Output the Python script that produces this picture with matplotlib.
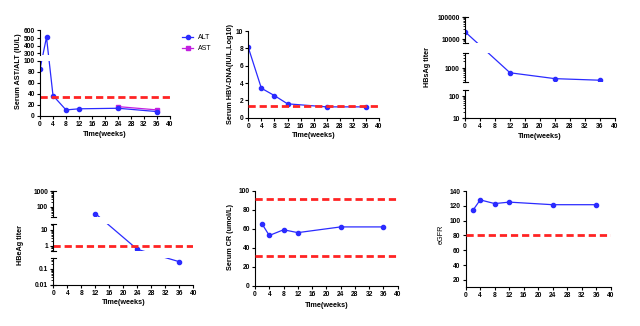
import numpy as np
import matplotlib.pyplot as plt

plt.rcParams['font.family'] = ['Liberation Sans', 'DejaVu Sans']
plt.rcParams['font.weight'] = 'bold'
plt.rcParams['axes.labelweight'] = 'bold'

W, H = 640, 326
BLUE = '#2b2bff'
RED = '#ff2424'
MAG = '#c21fe0'

# ---- data ----
weeks_alt = [0, 2, 4, 8, 12, 24, 36]
alt = [85, 510, 37, 11, 13, 14, 8]
weeks_ast = [24, 36]
ast = [17, 11]
alt_uln = 35

weeks_dna = [0, 4, 8, 12, 24, 36]
hbv_dna = [8.1, 3.4, 2.55, 1.6, 1.25, 1.25]
dna_cut = 1.3

weeks_hbsag = [0, 12, 24, 36]
hbsag = [22000, 610, 330, 280]

weeks_hbeag = [12, 24, 36]
hbeag = [38, 0.62, 0.29]
hbeag_cut = 1

weeks_kid = [2, 4, 8, 12, 24, 36]
creat = [65, 53, 59, 56, 62, 62]
creat_range = [32, 91]
egfr = [114, 128, 123, 125, 121.5, 121.5]
egfr_cut = 80

x_ticks = list(range(0, 41, 4))

fig = plt.figure(figsize=(6.4, 3.26), dpi=100)


def make_axes(x0, x1, ytop, ybot):
    ax = fig.add_axes([x0 / W, 1 - ybot / H, (x1 - x0) / W, (ybot - ytop) / H])
    ax.spines[['top', 'right']].set_visible(False)
    ax.spines[['left', 'bottom']].set_linewidth(0.8)
    ax.set_xlim(0, 40)
    ax.set_xticks(x_ticks)
    ax.tick_params(length=2.5, width=0.8, pad=1.2, labelsize=4.8)
    ax.tick_params(which='minor', length=1.5, width=0.6)
    return ax


def broken_scale(ax, vals, pix, log=False):
    # piecewise mapping value -> pixel (GraphPad style broken axis)
    v = np.log10(vals) if log else np.asarray(vals, float)
    p = -np.asarray(pix, float)
    v = np.concatenate([[v[0] - 100 * (v[1] - v[0])], v, [v[-1] + 100 * (v[-1] - v[-2])]])
    p = np.concatenate([[p[0] - 100 * (p[1] - p[0])], p, [p[-1] + 100 * (p[-1] - p[-2])]])

    def fwd(y):
        y = np.asarray(y, float)
        with np.errstate(divide='ignore', invalid='ignore'):
            t = np.log10(np.maximum(y, 1e-300)) if log else y
        return np.interp(t, v, p)

    def inv(q):
        t = np.interp(np.asarray(q, float), p, v)
        return 10 ** t if log else t

    ax.set_yscale('function', functions=(fwd, inv))


def draw_breaks(ax, segments, gaps, width_px, caps=True):
    ax.spines['left'].set_visible(False)
    tr = ax.get_yaxis_transform()
    c = 2.5 / width_px
    for lo, hi in segments:
        ax.plot([0, 0], [lo, hi], transform=tr, color='k', lw=0.8, clip_on=False, zorder=5)
        if caps:
            for y in (lo, hi):
                ax.plot([-c, c], [y, y], transform=tr, color='k', lw=0.8, clip_on=False, zorder=5)
    for lo, hi in gaps:
        ax.axhspan(lo, hi, color='white', lw=0, zorder=4)


def red_line(ax, y):
    ax.axhline(y, xmin=0, xmax=1, color=RED, lw=2, dashes=(2.6, 1.4), zorder=3)


def labels(ax, ylab, ly, lx, xlab=None, xly=-0.2, yweight='bold'):
    ax.set_ylabel(ylab, fontsize=5.2, fontweight=yweight, va='center')
    ax.yaxis.set_label_coords(lx, ly)
    if xlab:
        ax.set_xlabel(xlab, fontsize=5.2, va='center')
        ax.xaxis.set_label_coords(0.5, xly)


line_kw = dict(color=BLUE, lw=0.9, marker='o', ms=3, zorder=2)

# ---- panel 1: ALT / AST (broken linear axis) ----
ax1 = make_axes(40, 170, 30.3, 116)
broken_scale(ax1, [0, 100, 280, 600], [116, 60.7, 55, 30.3])
ax1.plot(weeks_ast, ast, color=MAG, lw=0.9, marker='s', ms=3, zorder=2, label='AST')
ax1.plot(weeks_alt, alt, label='ALT', **line_kw)
red_line(ax1, alt_uln)
draw_breaks(ax1, [(0, 100), (280, 600)], [(100, 280)], 130, caps=False)
ax1.set_yticks([0, 20, 40, 60, 80, 100, 300, 400, 500, 600])
ax1.set_ylim(0, 600)
labels(ax1, 'Serum AST/ALT (IU/L)', 0.52, -0.165, 'Time(weeks)', -0.214)
h, l = ax1.get_legend_handles_labels()
fig.legend(h[::-1], l[::-1], loc='upper left', bbox_to_anchor=(176 / W, 1 - 28 / H),
           frameon=False, fontsize=5, handlelength=1.6, handletextpad=0.6,
           labelspacing=0.6, prop={'weight': 'normal', 'size': 5})

# ---- panel 2: HBV-DNA ----
ax2 = make_axes(248.3, 379, 31, 117.7)
ax2.plot(weeks_dna, hbv_dna, **line_kw)
red_line(ax2, dna_cut)
ax2.set_ylim(0, 10)
ax2.set_yticks(range(0, 11, 2))
labels(ax2, 'Serum HBV-DNA(IU/L,Log10)', 0.5, -0.14, 'Time(weeks)', -0.2)

# ---- panel 3: HBsAg titer (broken log axis) ----
ax3 = make_axes(465, 615, 17.3, 118.3)
seg3 = [(10, 10 ** 2.27), (10 ** 2.38, 10 ** 3.67), (10 ** 3.83, 1e5)]
broken_scale(ax3, [10, 10 ** 2.27, 10 ** 2.38, 10 ** 3.67, 10 ** 3.83, 1e5],
             [118.3, 90, 81.7, 53.3, 43, 17.3], log=True)
ax3.plot(weeks_hbsag, hbsag, **line_kw)
draw_breaks(ax3, seg3, [(seg3[0][1], seg3[1][0]), (seg3[1][1], seg3[2][0])], 150)
ax3.set_yticks([10, 100, 1000, 10000, 100000])
ax3.set_yticklabels(['10', '100', '1000', '10000', '100000'])
minor3 = [k * 10 ** d for d in range(1, 5) for k in range(2, 10)]
minor3 = [m for m in minor3 if any(lo < m < hi for lo, hi in seg3)]
ax3.set_yticks(minor3, minor=True)
ax3.set_ylim(10, 1e5)
labels(ax3, 'HBsAg titer', 0.51, -0.25, 'Time(weeks)', -0.18)

# ---- panel 4: HBeAg titer (broken log axis) ----
ax4 = make_axes(53.3, 193.3, 191, 284.7)
seg4 = [(0.01, 10 ** -0.32), (10 ** -0.31, 10 ** 1.33), (10 ** 1.34, 1000)]
broken_scale(ax4, [0.01, 10 ** -0.32, 10 ** -0.31, 10 ** 1.33, 10 ** 1.34, 1000],
             [284.7, 258.3, 251, 224.3, 217.3, 191], log=True)
ax4.plot(weeks_hbeag, hbeag, **line_kw)
red_line(ax4, hbeag_cut)
draw_breaks(ax4, seg4, [(seg4[0][1], seg4[1][0]), (seg4[1][1], seg4[2][0])], 140)
ax4.set_yticks([0.01, 0.1, 1, 10, 100, 1000])
ax4.set_yticklabels(['0.01', '0.1', '1', '10', '100', '1000'])
minor4 = [k * 10.0 ** d for d in range(-2, 3) for k in range(2, 10)]
minor4 = [m for m in minor4 if any(lo < m < hi for lo, hi in seg4)]
ax4.set_yticks(minor4, minor=True)
ax4.set_ylim(0.01, 1000)
labels(ax4, 'HBeAg titer', 0.42, -0.233, 'Time(weeks)', -0.185)

# ---- panel 5: serum creatinine ----
ax5 = make_axes(255, 397.7, 190.7, 286)
ax5.plot(weeks_kid, creat, **line_kw)
for y in creat_range:
    red_line(ax5, y)
ax5.set_ylim(0, 100)
ax5.set_yticks(range(0, 101, 20))
labels(ax5, 'Serum CR (umol/L)', 0.51, -0.17, 'Time(weeks)', -0.2)

# ---- panel 6: eGFR ----
ax6 = make_axes(465.7, 610.7, 191, 287.3)
ax6.plot(weeks_kid, egfr, **line_kw)
red_line(ax6, egfr_cut)
ax6.set_ylim(10, 140)
ax6.set_yticks(range(20, 141, 20))
labels(ax6, 'eGFR', 0.55, -0.172, yweight='normal')

fig.savefig('out.png', dpi=100)
